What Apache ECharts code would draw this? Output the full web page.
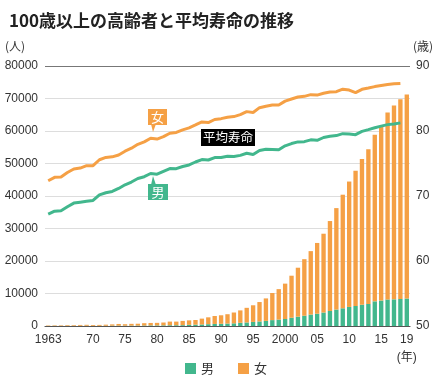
<!DOCTYPE html>
<html><head><meta charset="utf-8">
<script src="https://cdn.jsdelivr.net/npm/echarts@6/dist/echarts.min.js"></script>
<style>html,body{margin:0;padding:0;background:#fff}#c{width:435px;height:380px}</style>
</head><body><div id="c"></div>
<script>
const years = [];
for (let y = 1963; y <= 2019; y++) years.push(String(y));
const shownTicks = {"1963":"1963","1970":"70","1975":"75","1980":"80","1985":"85","1990":"90","1995":"95","2000":"2000","2005":"05","2010":"10","2015":"15","2019":"19\n(年)"};
const male100 = [20,40,36,47,49,60,69,54,61,70,101,108,102,115,126,148,179,174,194,234,239,255,359,406,466,562,629,680,747,822,983,1093,1255,1400,1570,1812,1973,2158,2541,2875,3159,3523,3779,4150,4613,5063,5447,5869,6162,6534,6791,7586,7840,8167,8197,8331,8463];
const female100 = [133,151,162,205,206,267,296,256,278,335,394,519,446,551,574,712,758,794,878,1120,1115,1312,1381,1445,1805,2106,2449,2618,2878,3330,3819,4500,5123,5973,6921,8346,9373,10878,12934,15059,17402,19515,21775,24245,27682,31213,34952,38580,41594,44842,47606,51234,53728,57525,59627,61454,62775];
const maleLife = [67.21,67.67,67.74,68.35,68.91,69.05,69.18,69.31,70.17,70.50,70.70,71.16,71.73,72.15,72.69,72.97,73.46,73.35,73.79,74.22,74.20,74.54,74.78,75.23,75.61,75.54,75.91,75.92,76.11,76.09,76.25,76.57,76.38,77.01,77.19,77.16,77.10,77.72,78.07,78.32,78.36,78.64,78.56,79.00,79.19,79.29,79.59,79.55,79.44,79.94,80.21,80.50,80.75,80.98,81.09,81.25];
const femaleLife = [72.34,72.87,72.92,73.61,74.15,74.30,74.67,74.66,75.58,75.94,76.02,76.31,76.89,77.35,77.95,78.33,78.89,78.76,79.13,79.66,79.78,80.18,80.48,80.93,81.39,81.30,81.77,81.90,82.11,82.22,82.51,82.98,82.85,83.59,83.82,84.01,83.99,84.60,84.93,85.23,85.33,85.59,85.52,85.81,85.99,86.05,86.44,86.30,85.90,86.41,86.61,86.83,86.99,87.14,87.26,87.32];

const GREEN = '#42b78d', ORANGE = '#f5a045';
const FONT = '"Liberation Sans","Noto Sans CJK JP",sans-serif';
const CJK = '"Noto Sans CJK JP",sans-serif';
const chart = echarts.init(document.getElementById('c'), null, {renderer:'canvas'});
chart.setOption({
  animation:false,
  backgroundColor:'#fff',
  title:{text:'100歳以上の高齢者と平均寿命の推移',left:4,top:7,textStyle:{fontFamily:CJK,fontSize:17,fontWeight:'bold',color:'#222'}},
  grid:{left:45,right:25,top:66,bottom:54},
  legend:{data:['男','女'],left:180,top:357,itemWidth:11,itemHeight:11,itemGap:24,icon:'rect',
    textStyle:{fontFamily:CJK,fontSize:13,color:'#333'}},
  xAxis:{type:'category',data:years,boundaryGap:true,
    axisLine:{lineStyle:{color:'#555',width:1.2}},axisTick:{show:false},
    axisLabel:{interval:0,margin:5,fontFamily:FONT,fontSize:12,color:'#333',lineHeight:18,
      formatter:v=>shownTicks[v]||''}},
  yAxis:[
    {type:'value',min:0,max:80000,interval:10000,axisLine:{show:false},axisTick:{show:false},
     axisLabel:{margin:7,fontFamily:FONT,fontSize:12,color:'#333',formatter:v=>String(v)},
     splitLine:{lineStyle:{color:'#ddd',width:1.2}}},
    {type:'value',min:50,max:90,interval:10,axisLine:{show:false},axisTick:{show:false},splitLine:{show:false},
     axisLabel:{margin:6,fontFamily:FONT,fontSize:12,color:'#333'}}
  ],
  series:[
    {name:'男',type:'bar',stack:'p',data:male100,barWidth:'68%',itemStyle:{color:GREEN},
     markLine:{silent:true,symbol:'none',label:{show:false},lineStyle:{color:'#777',type:'solid',width:1.2},data:[{yAxis:80000}]}},
    {name:'女',type:'bar',stack:'p',data:female100,barWidth:'68%',itemStyle:{color:ORANGE}},
    {name:'男平均寿命',type:'line',yAxisIndex:1,data:maleLife,symbol:'none',lineStyle:{color:GREEN,width:3},itemStyle:{color:GREEN},z:5},
    {name:'女平均寿命',type:'line',yAxisIndex:1,data:femaleLife,symbol:'none',lineStyle:{color:ORANGE,width:3},itemStyle:{color:ORANGE},z:5}
  ],
  graphic:[
    {type:'text',left:5,top:40,style:{text:'(人)',font:'12px '+CJK,fill:'#333'}},
    {type:'text',left:413,top:40,style:{text:'(歳)',font:'12px '+CJK,fill:'#333'}},
    {type:'rect',shape:{x:148,y:109,width:19,height:16},style:{fill:ORANGE},z:10},
    {type:'polygon',shape:{points:[[151,124],[156,124],[153,132]]},style:{fill:ORANGE},z:10},
    {type:'text',x:157.5,y:117,style:{text:'女',font:'13px '+CJK,fill:'#fff',align:'center',verticalAlign:'middle'},z:11},
    {type:'rect',shape:{x:148,y:184,width:20,height:16},style:{fill:GREEN},z:10},
    {type:'polygon',shape:{points:[[151,185],[156,185],[153,176]]},style:{fill:GREEN},z:10},
    {type:'text',x:158,y:192,style:{text:'男',font:'13px '+CJK,fill:'#fff',align:'center',verticalAlign:'middle'},z:11},
    {type:'rect',shape:{x:201,y:129,width:54,height:17},style:{fill:'#000'},z:10},
    {type:'text',x:228,y:137.5,style:{text:'平均寿命',font:'12.5px '+CJK,fill:'#fff',align:'center',verticalAlign:'middle'},z:11}
  ]
});
</script></body></html>
